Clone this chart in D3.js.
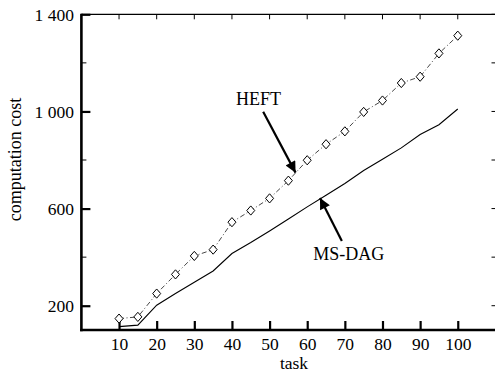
<!DOCTYPE html>
<html>
<head>
<meta charset="utf-8">
<script src="https://cdn.jsdelivr.net/npm/d3@7"></script>
<style>
  html, body { margin: 0; padding: 0; background: #fff; }
  svg { display: block; }
  text { font-family: "Liberation Serif", "Times New Roman", serif; fill: #000; }
</style>
</head>
<body>
<svg id="chart" width="495" height="374"></svg>
<script>
const tasks = [10, 15, 20, 25, 30, 35, 40, 45, 50, 55, 60, 65, 70, 75, 80, 85, 90, 95, 100];
const heft = [147, 154, 250, 329, 405, 431, 544, 592, 642, 715, 799, 865, 918, 998, 1045, 1117, 1143, 1239, 1312];
const msdag = [114, 120, 202, 250, 297, 343, 415, 460, 508, 557, 607, 655, 703, 757, 803, 850, 905, 945, 1010];
const xTicks = [10, 20, 30, 40, 50, 60, 70, 80, 90, 100];
const yMajorTicks = [200, 600, 1000, 1400];
const yMinorTicks = [400, 800, 1200];
const yAllTicks = [200, 400, 600, 800, 1000, 1200, 1400];
const annotations = [
  { name: "HEFT", label: [41.1, 1026], tail: [48.3, 999], tip: [56.9, 748] },
  { name: "MS-DAG", label: [61.6, 388], tail: [69.2, 466], tip: [63.4, 644] }
];

(function () {
const svg = d3.select("#chart");
const pLeft = 81.4, pRight = 495.4, pTop = 14.3, pBottom = 330;
const x = d3.scaleLinear().domain([0, 110]).range([pLeft, pRight]);
const y = d3.scaleLinear().domain([100, 1400]).range([pBottom, pTop]);
const fmt = d => d >= 1000 ? d3.format(",")(d).replace(",", " ") : String(d);

// Top frame line + ticks (thin)
svg.append("line").attr("x1", pLeft).attr("x2", 495).attr("y1", pTop).attr("y2", pTop)
  .attr("stroke", "#000").attr("stroke-width", 1.2);
svg.append("g").selectAll("line").data(xTicks).join("line")
  .attr("x1", d => x(d)).attr("x2", d => x(d)).attr("y1", pTop).attr("y2", pTop + 5)
  .attr("stroke", "#000").attr("stroke-width", 1);

// Right ticks (thin, inward)
svg.append("g").selectAll("line").data(yAllTicks).join("line")
  .attr("x1", 491.5).attr("x2", 495).attr("y1", d => y(d)).attr("y2", d => y(d))
  .attr("stroke", "#000").attr("stroke-width", 1);

// Left axis
const yAxis = d3.axisLeft(y).tickValues(yMajorTicks).tickFormat(fmt).tickSize(-9).tickPadding(7.5);
const gy = svg.append("g").attr("transform", `translate(${pLeft},0)`).call(yAxis);
gy.select(".domain").remove();
gy.selectAll(".tick line").attr("stroke-width", 2.2);
gy.selectAll(".tick text").attr("font-size", 17.5).attr("font-family", "Liberation Serif").attr("dy", "0.33em");
svg.append("g").selectAll("line").data(yMinorTicks).join("line")
  .attr("x1", pLeft).attr("x2", pLeft + 5).attr("y1", d => y(d)).attr("y2", d => y(d))
  .attr("stroke", "#000").attr("stroke-width", 1);
svg.append("line").attr("x1", pLeft).attr("x2", pLeft).attr("y1", pTop - 0.5).attr("y2", pBottom + 1.2)
  .attr("stroke", "#000").attr("stroke-width", 2.6);

// Bottom axis
const xAxis = d3.axisBottom(x).tickValues(xTicks).tickSize(-9).tickPadding(8);
const gx = svg.append("g").attr("transform", `translate(0,${pBottom})`).call(xAxis);
gx.select(".domain").remove();
gx.selectAll(".tick line").attr("stroke-width", 2.2);
gx.selectAll(".tick text").attr("font-size", 17.5).attr("font-family", "Liberation Serif");
svg.append("line").attr("x1", pLeft - 1.3).attr("x2", 495).attr("y1", pBottom).attr("y2", pBottom)
  .attr("stroke", "#000").attr("stroke-width", 2.6);

// Axis titles
svg.append("text").attr("x", 294).attr("y", 369).attr("text-anchor", "middle")
  .attr("font-size", 17.5).text("task");
svg.append("text").attr("transform", "translate(21,159.5) rotate(-90)")
  .attr("text-anchor", "middle").attr("font-size", 18).text("computation cost");

// Lines
const line = d3.line().x((d, i) => x(tasks[i])).y(d => y(d));
svg.append("path").datum(msdag).attr("d", line)
  .attr("fill", "none").attr("stroke", "#000").attr("stroke-width", 1.1);
svg.append("path").datum(heft).attr("d", line)
  .attr("fill", "none").attr("stroke", "#333").attr("stroke-width", 0.9)
  .attr("stroke-dasharray", "5,2.5,1,2.5");
svg.append("g").selectAll("path").data(heft).join("path")
  .attr("transform", (d, i) => `translate(${x(tasks[i])},${y(d)})`)
  .attr("d", "M0,-4.6L4,0L0,4.6L-4,0Z")
  .attr("fill", "#fff").attr("stroke", "#000").attr("stroke-width", 1);

// Annotations
svg.append("defs").append("marker").attr("id", "ah")
  .attr("viewBox", "0 0 10 10").attr("refX", 10).attr("refY", 5)
  .attr("markerWidth", 5.5).attr("markerHeight", 5).attr("markerUnits", "strokeWidth")
  .attr("orient", "auto")
  .append("path").attr("d", "M0,0L10,5L0,10Z").attr("fill", "#000");
annotations.forEach(a => {
  svg.append("text").attr("x", x(a.label[0])).attr("y", y(a.label[1]))
    .attr("font-size", 18).text(a.name);
  svg.append("line")
    .attr("x1", x(a.tail[0])).attr("y1", y(a.tail[1]))
    .attr("x2", x(a.tip[0])).attr("y2", y(a.tip[1]))
    .attr("stroke", "#000").attr("stroke-width", 2.2)
    .attr("marker-end", "url(#ah)");
});
})();
</script>
</body>
</html>
